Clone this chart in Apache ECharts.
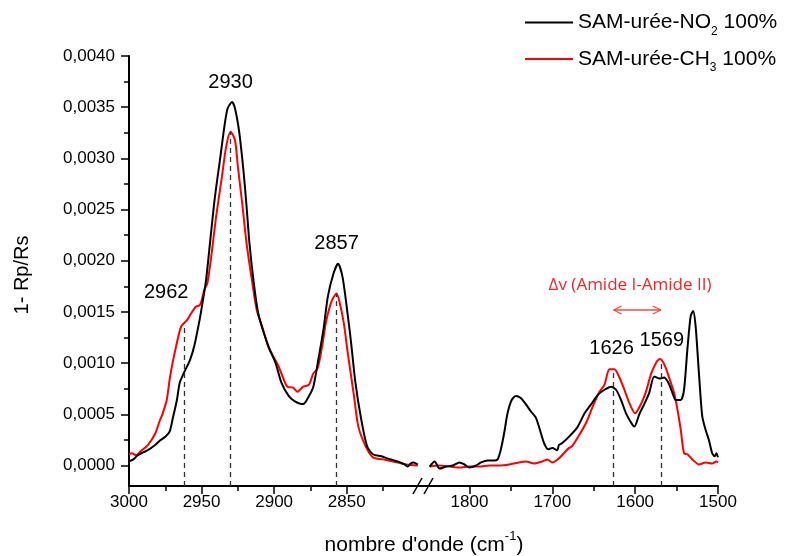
<!DOCTYPE html>
<html><head><meta charset="utf-8">
<script src="https://cdn.jsdelivr.net/npm/echarts@6/dist/echarts.min.js"></script>
<style>html,body{margin:0;padding:0;background:#fff}#c{width:786px;height:556px}</style>
</head><body><div id="c"></div>
<script>
// ---- data (y values are 1 - Rp/Rs) ----
const no2HighX = [3000,2997,2994,2990,2987,2982,2979,2975,2972,2970,2967,2965,2962,2958,2955,2951,2949,2947,2944,2941,2937,2934,2932,2929,2927,2924,2921,2919,2917,2914,2911,2907,2903,2899,2895,2890,2886,2880,2876,2873,2870,2866,2863,2859,2856,2853,2850,2847,2844,2840,2836,2832,2826,2824,2822,2815,2810,2808,2806,2804,2801];
const no2HighY = [0.4e-4,0.6e-4,1.0e-4,1.3e-4,1.5e-4,2.0e-4,2.4e-4,2.8e-4,3.3e-4,4.5e-4,6.4e-4,8.1e-4,9.1e-4,10.3e-4,11.7e-4,14.5e-4,16.2e-4,18.0e-4,22.0e-4,26.0e-4,30.2e-4,33.4e-4,34.9e-4,35.5e-4,34.9e-4,32.5e-4,28.6e-4,25.3e-4,21.7e-4,17.8e-4,14.9e-4,12.9e-4,11.3e-4,10.0e-4,8.1e-4,6.8e-4,6.3e-4,6.0e-4,6.8e-4,7.7e-4,10.0e-4,13.3e-4,16.5e-4,18.8e-4,19.7e-4,18.5e-4,15.5e-4,12.0e-4,8.1e-4,4.5e-4,1.9e-4,1.1e-4,0.9e-4,0.8e-4,0.7e-4,0.4e-4,0.1e-4,-0.1e-4,0.2e-4,0.3e-4,0.1e-4];
const ch3HighX = [3000,2998,2995,2992,2987,2982,2979,2977,2974,2972,2970,2967,2964,2960,2957,2954,2951,2948,2946,2943,2940,2936,2933,2930,2927,2925,2922,2919,2915,2912,2907,2904,2897,2891,2887,2884,2880,2876,2873,2870,2867,2864,2860,2857,2855,2852,2849,2845,2842,2837,2832,2825,2818,2809,2801];
const ch3HighY = [1.1e-4,1.2e-4,1.0e-4,1.4e-4,2.0e-4,3.1e-4,4.3e-4,5.0e-4,6.4e-4,8.4e-4,10.0e-4,12.0e-4,13.6e-4,14.2e-4,14.9e-4,15.5e-4,15.7e-4,17.2e-4,17.8e-4,20.8e-4,24.3e-4,28.2e-4,31.2e-4,32.6e-4,31.8e-4,29.2e-4,25.6e-4,21.7e-4,17.8e-4,15.2e-4,13.0e-4,11.6e-4,9.7e-4,7.7e-4,7.6e-4,7.2e-4,7.7e-4,7.9e-4,9.0e-4,9.5e-4,11.6e-4,14.2e-4,16.2e-4,16.8e-4,16.0e-4,13.9e-4,10.7e-4,6.8e-4,3.8e-4,1.9e-4,0.8e-4,0.6e-4,0.4e-4,0.1e-4,0.0];
const no2LowX = [1848,1842,1836,1828,1820,1812,1806,1800,1792,1786,1778,1770,1766,1762,1758,1754,1749,1744,1738,1732,1726,1720,1715,1710,1705,1700,1694,1692,1688,1680,1670,1661,1653,1645,1637,1629,1623,1617,1611,1605,1601,1595,1589,1583,1577,1571,1565,1560,1555,1551,1545,1541,1537,1533,1530,1527,1523,1519,1515,1511,1507,1504,1502,1500];
const no2LowY = [-0.1e-4,0.4e-4,-0.3e-4,-0.1e-4,0.0,0.3e-4,0.1e-4,-0.2e-4,0.0,0.3e-4,0.5e-4,0.5e-4,0.6e-4,1.6e-4,3.2e-4,5.1e-4,6.4e-4,6.8e-4,6.6e-4,6.0e-4,5.3e-4,4.7e-4,3.5e-4,2.2e-4,1.6e-4,1.7e-4,1.5e-4,2.0e-4,2.2e-4,2.8e-4,3.7e-4,5.1e-4,6.0e-4,6.9e-4,7.4e-4,7.7e-4,7.4e-4,6.4e-4,5.1e-4,4.2e-4,3.8e-4,5.0e-4,6.0e-4,7.1e-4,8.7e-4,8.5e-4,8.6e-4,8.1e-4,7.1e-4,6.4e-4,6.4e-4,7.4e-4,11.3e-4,14.6e-4,15.1e-4,13.6e-4,9.0e-4,4.8e-4,3.5e-4,2.5e-4,1.2e-4,0.9e-4,1.2e-4,0.8e-4];
const ch3LowX = [1848,1836,1824,1812,1800,1788,1776,1764,1752,1740,1732,1722,1712,1706,1700,1692,1686,1680,1676,1668,1659,1651,1643,1637,1631,1625,1619,1613,1607,1600,1593,1587,1581,1575,1570,1565,1559,1553,1549,1545,1541,1537,1531,1523,1515,1507,1502,1500];
const ch3LowY = [-0.1e-4,0.0,-0.1e-4,-0.2e-4,-0.1e-4,-0.1e-4,0.0,0.0,0.1e-4,0.3e-4,0.4e-4,0.2e-4,0.4e-4,0.6e-4,0.3e-4,0.7e-4,1.2e-4,1.7e-4,1.9e-4,2.9e-4,4.2e-4,5.8e-4,7.2e-4,7.9e-4,9.4e-4,9.4e-4,8.6e-4,7.4e-4,6.1e-4,5.1e-4,6.0e-4,7.2e-4,8.9e-4,10.0e-4,10.4e-4,9.9e-4,8.6e-4,7.1e-4,5.5e-4,3.5e-4,1.2e-4,1.1e-4,0.6e-4,0.1e-4,0.3e-4,0.2e-4,0.4e-4,0.3e-4];

const yTicks = [0,0.0005,0.001,0.0015,0.002,0.0025,0.003,0.0035,0.004];
const yMinorTicks = [0.00025,0.00075,0.00125,0.00175,0.00225,0.00275,0.00325,0.00375];
const xHighTicks = [3000,2950,2900,2850];
const xHighMinor = [2975,2925,2875,2825];
const xLowTicks = [1800,1700,1600,1500];
const xLowMinor = [1750,1650,1550];
const peaksHigh = [2962,2930,2857];
const peaksLow = [1626,1569];
const seriesNames = {NO2:['SAM-urée-NO','2',' 100%'], CH3:['SAM-urée-CH','3',' 100%']};
const yTitle = '1- Rp/Rs';
const xTitle = ["nombre d'onde (cm", '-1', ')'];
const deltaText = '\u0394v (Amide I-Amide II)';

// ---- helpers ----
const FONT = '"Liberation Sans", Arial, sans-serif';
const zip = (xs, ys) => xs.map((x, i) => [x, ys[i]]);
function valueAt(xs, ys, x) {
  for (let i = 0; i < xs.length - 1; i++) {
    const a = xs[i], b = xs[i + 1];
    if ((x <= a && x >= b) || (x >= a && x <= b)) {
      const t = (x - a) / (b - a);
      return ys[i] + t * (ys[i + 1] - ys[i]);
    }
  }
  return ys[ys.length - 1];
}
const Y_MIN = -0.0002, Y_MAX = 0.004;
const axisColor = '#000';
function mainX(gridIndex, min, max, ticks) {
  return {gridIndex, type:'value', position:'bottom', min, max, inverse:true,
    axisLine:{show:true, onZero:false, lineStyle:{color:axisColor, width:2}},
    axisTick:{show:true, customValues:ticks, length:8, lineStyle:{color:axisColor, width:1.5}},
    axisLabel:{show:true, customValues:ticks, margin:8, fontSize:17, color:'#000', fontFamily:FONT,
      formatter:v => String(v)},
    splitLine:{show:false}};
}
function minorX(gridIndex, min, max, ticks) {
  return {gridIndex, type:'value', position:'bottom', min, max, inverse:true,
    axisLine:{show:false, onZero:false},
    axisTick:{show:true, customValues:ticks, length:5, lineStyle:{color:axisColor, width:1.5}},
    axisLabel:{show:false}, splitLine:{show:false}};
}
const dashStyle = {type:[5,4], color:'#333', width:1.3};
function dashLines(peaks, xs, ys) {
  return peaks.map(p => [{coord:[p, Y_MIN]}, {coord:[p, valueAt(xs, ys, p)]}]);
}
function lineSeries(name, xi, yi, xs, ys, color, peaks) {
  const s = {type:'line', name, xAxisIndex:xi, yAxisIndex:yi, data:zip(xs, ys),
    showSymbol:false, symbol:'none', smooth:0.25, clip:true,
    lineStyle:{color, width:2}, itemStyle:{color}, emphasis:{disabled:true}};
  if (peaks) s.markLine = {silent:true, symbol:'none', label:{show:false}, lineStyle:dashStyle,
    emphasis:{disabled:true}, data:dashLines(peaks, xs, ys)};
  return s;
}

const chart = echarts.init(document.getElementById('c'), null, {renderer:'canvas'});
chart.setOption({
  animation:false,
  backgroundColor:'#fff',
  grid:[{left:129, top:56, width:299, height:430}, {left:428, top:56, width:290, height:430}],
  xAxis:[
    mainX(0, 2794, 3000, xHighTicks),
    minorX(0, 2794, 3000, xHighMinor),
    mainX(1, 1500, 1850, xLowTicks),
    minorX(1, 1500, 1850, xLowMinor)
  ],
  yAxis:[
    {gridIndex:0, type:'value', position:'left', min:Y_MIN, max:Y_MAX,
      axisLine:{show:true, onZero:false, lineStyle:{color:axisColor, width:2}},
      axisTick:{show:true, customValues:yTicks, length:8, lineStyle:{color:axisColor, width:1.5}},
      axisLabel:{show:true, customValues:yTicks, margin:14, fontSize:17, color:'#000', fontFamily:FONT,
        formatter:v => v.toFixed(4).replace('.', ',')},
      splitLine:{show:false}},
    {gridIndex:0, type:'value', position:'left', min:Y_MIN, max:Y_MAX,
      axisLine:{show:false, onZero:false},
      axisTick:{show:true, customValues:yMinorTicks, length:5, lineStyle:{color:axisColor, width:1.5}},
      axisLabel:{show:false}, splitLine:{show:false}},
    {gridIndex:1, type:'value', min:Y_MIN, max:Y_MAX, show:false, splitLine:{show:false}}
  ],
  legend:{orient:'vertical', left:525, top:12, padding:0, itemWidth:48, itemHeight:2, itemGap:11, icon:'rect',
    data:['NO2','CH3'], selectedMode:false,
    formatter:n => '{a|' + seriesNames[n][0] + '}{s|' + seriesNames[n][1] + '}{a|' + seriesNames[n][2] + '}',
    textStyle:{color:'#000', fontFamily:FONT, rich:{
      a:{fontSize:21, lineHeight:30, fontFamily:FONT, color:'#000'},
      s:{fontSize:12, lineHeight:12, verticalAlign:'bottom', fontFamily:FONT, color:'#000'}}}},
  series:[
    lineSeries('CH3', 0, 0, ch3HighX, ch3HighY, '#ff0000', peaksHigh),
    lineSeries('NO2', 0, 0, no2HighX, no2HighY, '#000000', null),
    lineSeries('CH3', 2, 2, ch3LowX, ch3LowY, '#ff0000', peaksLow),
    lineSeries('NO2', 2, 2, no2LowX, no2LowY, '#000000', null)
  ]
});

// ---- annotations positioned through the axes ----
const px = (g, x, y) => chart.convertToPixel({gridIndex:g}, [x, y]);
const labelDx = {2962:-18, 2930:0, 2857:0, 1626:-2, 1569:1};
const labelY = {2962:292, 2930:82, 2857:243, 1626:348, 1569:340};
const g = [];
peaksHigh.concat(peaksLow).forEach(p => {
  const gi = p > 2000 ? 0 : 1;
  const pt = px(gi, p, 0);
  g.push({type:'text', x:pt[0] + labelDx[p], y:labelY[p], silent:true,
    style:{text:String(p), fontSize:20, fontFamily:FONT, fill:'#000', align:'center', verticalAlign:'middle'}});
});
// delta annotation and double arrow
const a1 = px(1, peaksLow[0], 0)[0], a2 = px(1, peaksLow[1], 0)[0];
const ay = 310, arrowColor = '#f04848';
g.push({type:'text', x:630, y:285, silent:true,
  style:{text:deltaText, fontSize:17, fontFamily:'"Open Sans", "Liberation Sans", sans-serif', fill:'#f02828', align:'center', verticalAlign:'middle'}});
[[a1, ay, a2, ay], [a1, ay, a1 + 8, ay - 4], [a1, ay, a1 + 8, ay + 4], [a2, ay, a2 - 8, ay - 4], [a2, ay, a2 - 8, ay + 4]]
  .forEach(s => g.push({type:'line', silent:true, shape:{x1:s[0], y1:s[1], x2:s[2], y2:s[3]}, style:{stroke:arrowColor, lineWidth:1.3}}));
// axis break marks
[[413, 494, 422, 478], [424, 494, 433, 478]].forEach(s => g.push({type:'line', silent:true,
  shape:{x1:s[0], y1:s[1], x2:s[2], y2:s[3]}, style:{stroke:'#000', lineWidth:1.5}}));
// axis titles
g.push({type:'text', x:22, y:275, rotation:Math.PI / 2, silent:true,
  style:{text:yTitle, fontSize:20, fontFamily:FONT, fill:'#000', align:'center', verticalAlign:'middle'}});
g.push({type:'text', x:424, y:545, silent:true,
  style:{text:'{a|' + xTitle[0] + '}{s|' + xTitle[1] + '}{a|' + xTitle[2] + '}', align:'center', verticalAlign:'middle',
    rich:{a:{fontSize:21, lineHeight:30, fontFamily:FONT, fill:'#000'},
          s:{fontSize:13, lineHeight:13, verticalAlign:'top', fontFamily:FONT, fill:'#000'}}}});
chart.setOption({graphic:g});
</script></body></html>
